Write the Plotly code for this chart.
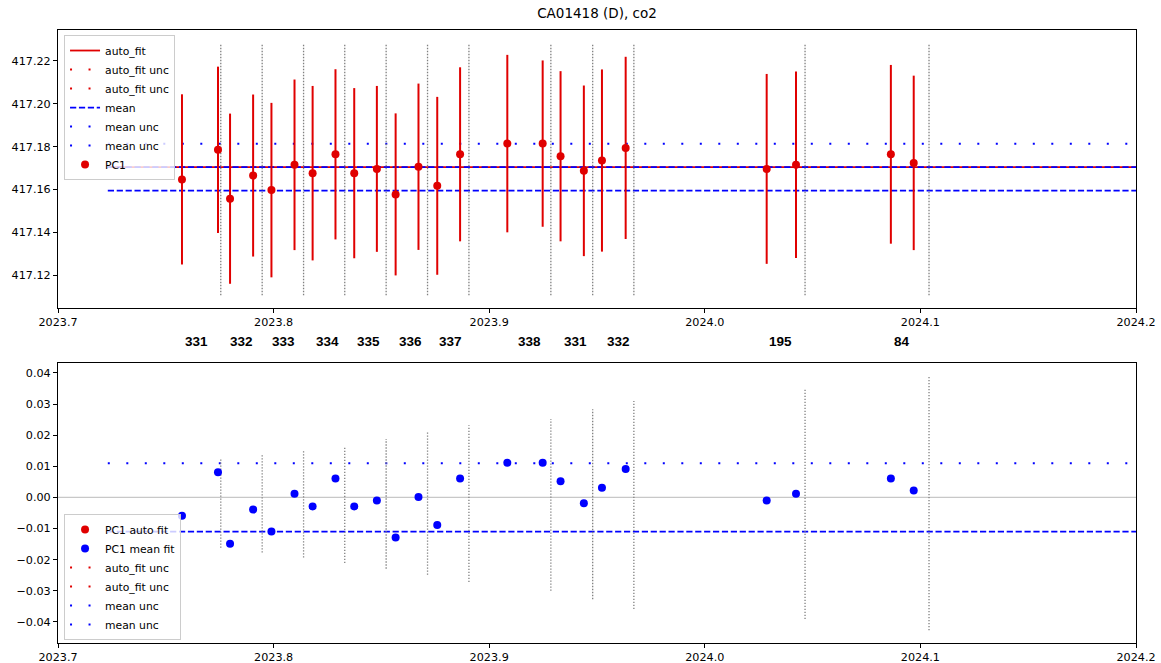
import plotly.graph_objects as go

# ---------------- data ----------------
dates = [2023.7575, 2023.7742, 2023.7798, 2023.7905, 2023.7990, 2023.8097, 2023.8181,
         2023.8287, 2023.8374, 2023.8479, 2023.8566, 2023.8672, 2023.8759, 2023.8865,
         2023.9084, 2023.9248, 2023.9331, 2023.9439, 2023.9523, 2023.9633, 2024.0287,
         2024.0423, 2024.0863, 2024.0969]
pc1 = [417.1647, 417.1785, 417.1557, 417.1665, 417.1597, 417.1715, 417.1676, 417.1764,
       417.1676, 417.1696, 417.1577, 417.1706, 417.1617, 417.1764, 417.1814, 417.1814,
       417.1755, 417.1687, 417.1735, 417.1794, 417.1696, 417.1715, 417.1764, 417.1724]
pc1_unc = [0.0397, 0.0388, 0.0397, 0.0378, 0.0407, 0.0398, 0.0407, 0.0397, 0.0397, 0.0387,
           0.0378, 0.0388, 0.0415, 0.0406, 0.0414, 0.0388, 0.0397, 0.0398, 0.0425, 0.0425,
           0.0443, 0.0435, 0.0417, 0.0407]
pc1_mean_resid = [-0.0059, 0.0081, -0.0149, -0.0039, -0.0110, 0.0012, -0.0029, 0.0061,
                  -0.0029, -0.0010, -0.0129, 0.0001, -0.0089, 0.0061, 0.0111, 0.0111,
                  0.0052, -0.0019, 0.0031, 0.0091, -0.0010, 0.0012, 0.0061, 0.0022]

auto_fit_value = 417.1704
mean_value = 417.1595
mean_unc_upper = 417.1813
line_x = [2023.7231, 2024.2]

week_dates = [2023.7755, 2023.7947, 2023.8139, 2023.8330, 2023.8522, 2023.8714, 2023.8906,
              2023.9286, 2023.9480, 2023.9671, 2024.0465, 2024.1040]
top_week_lo = 417.1107
top_week_hi = 417.2279
week_unc_hi = [0.0123, 0.0138, 0.0152, 0.0165, 0.0188, 0.0213, 0.0232, 0.0252, 0.0283,
               0.0310, 0.0351, 0.0388]
week_unc_lo = [-0.0162, -0.0177, -0.0193, -0.0211, -0.0229, -0.0249, -0.0272, -0.0300,
               -0.0327, -0.0359, -0.0391, -0.0427]

resid_mean = -0.011
resid_mean_unc = 0.011
resid_zero = 0.0

label_x = [2023.7644, 2023.7851, 2023.8047, 2023.8249, 2023.8442, 2023.8634, 2023.8820,
           2023.9188, 2023.9399, 2023.9602, 2024.0349, 2024.0915]
label_text = ["331", "332", "333", "334", "335", "336", "337", "338", "331", "332", "195", "84"]

x_range = [2023.7, 2024.2]
x_ticks = [2023.7, 2023.8, 2023.9, 2024.0, 2024.1, 2024.2]
top_y_range = [417.1047, 417.2344]
bot_y_range = [-0.0468, 0.0432]

RED = "#e00000"
BLUE = "#0000ff"
GRAY = "#808080"
FONT = "DejaVu Sans"
DOTTED_WIDE = "2px,16.5px"
DASHED = "6.2px,2.7px"
VDOT = "1.3px,1.7px"

fig = go.Figure()

def vsegments(xs, lo, hi):
    xx, yy = [], []
    for i, x in enumerate(xs):
        l = lo[i] if isinstance(lo, list) else lo
        h = hi[i] if isinstance(hi, list) else hi
        xx += [x, x, None]
        yy += [l, h, None]
    return xx, yy

# ---------------- top panel ----------------
fig.add_trace(go.Scatter(x=line_x, y=[auto_fit_value] * 2, mode="lines", name="auto_fit",
                         line=dict(color=RED, width=1.8), legend="legend", legendrank=1,
                         xaxis="x", yaxis="y"))
for r in (2, 3):
    fig.add_trace(go.Scatter(x=[None], y=[None], mode="lines", name="auto_fit unc",
                             line=dict(color=RED, width=2, dash=DOTTED_WIDE),
                             legend="legend", legendrank=r, xaxis="x", yaxis="y"))
fig.add_trace(go.Scatter(x=line_x, y=[mean_value] * 2, mode="lines", name="mean",
                         line=dict(color=BLUE, width=1.8, dash=DASHED),
                         legend="legend", legendrank=4, xaxis="x", yaxis="y"))
fig.add_trace(go.Scatter(x=line_x, y=[auto_fit_value] * 2, mode="lines", showlegend=False,
                         line=dict(color=BLUE, width=1.8, dash=DASHED),
                         hoverinfo="skip", xaxis="x", yaxis="y"))
fig.add_trace(go.Scatter(x=line_x, y=[mean_unc_upper] * 2, mode="lines", name="mean unc",
                         line=dict(color=BLUE, width=2, dash=DOTTED_WIDE),
                         legend="legend", legendrank=5, xaxis="x", yaxis="y"))
fig.add_trace(go.Scatter(x=[None], y=[None], mode="lines", name="mean unc",
                         line=dict(color=BLUE, width=2, dash=DOTTED_WIDE),
                         legend="legend", legendrank=6, xaxis="x", yaxis="y"))
vx, vy = vsegments(week_dates, top_week_lo, top_week_hi)
fig.add_trace(go.Scatter(x=vx, y=vy, mode="lines", showlegend=False, hoverinfo="skip",
                         line=dict(color=GRAY, width=1.3, dash=VDOT), xaxis="x", yaxis="y"))
fig.add_trace(go.Scatter(x=dates, y=pc1, mode="markers", name="PC1",
                         marker=dict(color=RED, size=8),
                         error_y=dict(type="data", array=pc1_unc, visible=True,
                                      color=RED, thickness=2, width=0),
                         legend="legend", legendrank=7, xaxis="x", yaxis="y"))

# ---------------- bottom panel ----------------
fig.add_trace(go.Scatter(x=x_range, y=[resid_zero] * 2, mode="lines", showlegend=False,
                         hoverinfo="skip", line=dict(color="#c8c8c8", width=1.2),
                         xaxis="x2", yaxis="y2"))
fig.add_trace(go.Scatter(x=line_x, y=[resid_mean] * 2, mode="lines", showlegend=False,
                         hoverinfo="skip", line=dict(color=BLUE, width=1.8, dash=DASHED),
                         xaxis="x2", yaxis="y2"))
fig.add_trace(go.Scatter(x=line_x, y=[resid_mean_unc] * 2, mode="lines", name="mean unc",
                         line=dict(color=BLUE, width=2, dash=DOTTED_WIDE),
                         legend="legend2", legendrank=5, xaxis="x2", yaxis="y2"))
fig.add_trace(go.Scatter(x=[None], y=[None], mode="lines", name="mean unc",
                         line=dict(color=BLUE, width=2, dash=DOTTED_WIDE),
                         legend="legend2", legendrank=6, xaxis="x2", yaxis="y2"))
for r in (3, 4):
    fig.add_trace(go.Scatter(x=[None], y=[None], mode="lines", name="auto_fit unc",
                             line=dict(color=RED, width=2, dash=DOTTED_WIDE),
                             legend="legend2", legendrank=r, xaxis="x2", yaxis="y2"))
vx2, vy2 = vsegments(week_dates, week_unc_lo, week_unc_hi)
fig.add_trace(go.Scatter(x=vx2, y=vy2, mode="lines", showlegend=False, hoverinfo="skip",
                         line=dict(color=GRAY, width=1.3, dash=VDOT), xaxis="x2", yaxis="y2"))
fig.add_trace(go.Scatter(x=[None], y=[None], mode="markers", name="PC1 auto fit",
                         marker=dict(color=RED, size=8),
                         legend="legend2", legendrank=1, xaxis="x2", yaxis="y2"))
fig.add_trace(go.Scatter(x=dates, y=pc1_mean_resid, mode="markers", name="PC1 mean fit",
                         marker=dict(color=BLUE, size=8),
                         legend="legend2", legendrank=2, xaxis="x2", yaxis="y2"))

# ---------------- annotations ----------------
annotations = []
for lx, lt in zip(label_x, label_text):
    annotations.append(dict(x=lx, y=0.4915, xref="x", yref="paper", text="<b>" + lt + "</b>",
                            showarrow=False, xanchor="center", yanchor="middle",
                            font=dict(family="Liberation Sans, Arial", size=13.5, color="black")))

axis_common = dict(showline=True, mirror=True, linecolor="black", linewidth=1,
                   ticks="outside", ticklen=4, tickwidth=1, tickcolor="black",
                   showgrid=False, zeroline=False, automargin=False,
                   tickfont=dict(family=FONT, size=11.2, color="black"))

legend_common = dict(bgcolor="rgba(255,255,255,0.8)", bordercolor="#cccccc", borderwidth=1,
                     font=dict(family=FONT, size=10.8, color="black"), xanchor="left",
                     tracegroupgap=0, itemwidth=30, traceorder="normal")

fig.update_layout(
    template="none",
    width=1161, height=663,
    paper_bgcolor="white", plot_bgcolor="white",
    margin=dict(l=58, r=25, t=30, b=20, autoexpand=False),
    title=dict(text="CA01418 (D), co2", x=0.5, xref="paper", xanchor="center",
               y=1 - 13 / 663, yref="container", yanchor="middle",
               font=dict(family=FONT, size=13.5, color="black")),
    xaxis=dict(domain=[0, 1], anchor="y", range=x_range, tickvals=x_ticks,
               tickformat=".1f", **axis_common),
    yaxis=dict(domain=[0.5465, 1], anchor="x", range=top_y_range, tick0=417.12, dtick=0.02,
               tickformat=".2f", **axis_common),
    xaxis2=dict(domain=[0, 1], anchor="y2", range=x_range, tickvals=x_ticks,
                tickformat=".1f", **axis_common),
    yaxis2=dict(domain=[0, 0.4568], anchor="x2", range=bot_y_range, tick0=0, dtick=0.01,
                tickformat=".2f", **axis_common),
    legend=dict(x=0.0056, y=0.9918, yanchor="top", **legend_common),
    legend2=dict(x=0.0056, y=0.0049, yanchor="bottom", **legend_common),
    annotations=annotations,
    showlegend=True,
)

fig.write_html("out.html", config={"displayModeBar": False},
               post_script="document.body.style.margin='0';document.body.style.overflow='hidden';")
